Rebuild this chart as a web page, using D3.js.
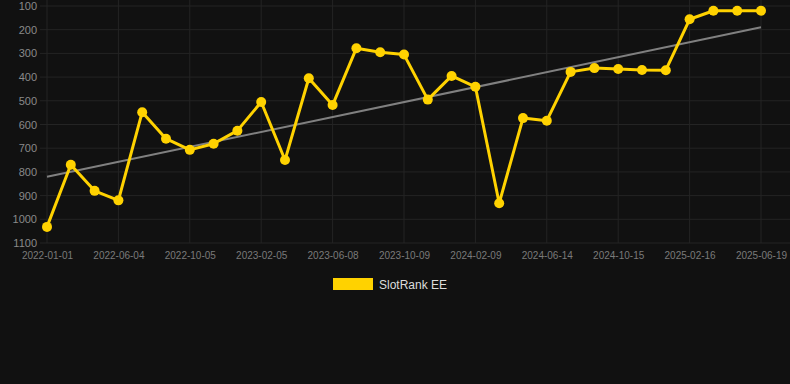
<!DOCTYPE html>
<html><head><meta charset="utf-8">
<script src="https://cdn.jsdelivr.net/npm/d3@7"></script>
<style>html,body{margin:0;padding:0;background:#111111;}svg{display:block;}</style>
</head><body>
<svg id="c" width="790" height="384"></svg>
<script>
const dates = ["2022-01-01","2022-02-21","2022-04-13","2022-06-04","2022-07-15","2022-08-25","2022-10-05","2022-11-15","2022-12-26","2023-02-05","2023-03-18","2023-04-28","2023-06-08","2023-07-19","2023-08-29","2023-10-09","2023-11-19","2023-12-30","2024-02-09","2024-03-21","2024-05-03","2024-06-14","2024-07-25","2024-09-04","2024-10-15","2024-11-25","2025-01-06","2025-02-16","2025-03-29","2025-05-09","2025-06-19"];
const ranks = [1032,770,880,920,548,660,707,681,626,505,750,405,518,278,295,305,495,395,441,932,573,584,378,362,366,370,371,156,120,120,120];
const yTicks = [100,200,300,400,500,600,700,800,900,1000,1100];
const seriesName = "SlotRank EE";

const svg = d3.select("#c");
const x = d3.scalePoint().domain(dates).range([47, 761]);
const y = d3.scaleLinear().domain([100, 1100]).range([6, 243]);
const xTicks = dates.filter((d, i) => i % 3 === 0);

// grid
svg.append("g").selectAll("line").data(yTicks).join("line")
  .attr("x1", 40).attr("x2", 790).attr("y1", d => y(d)).attr("y2", d => y(d))
  .attr("stroke", "#242424").attr("stroke-width", 1);
svg.append("g").selectAll("line").data(xTicks).join("line")
  .attr("x1", d => x(d)).attr("x2", d => x(d)).attr("y1", 0).attr("y2", 243)
  .attr("stroke", "#242424").attr("stroke-width", 1);

// axes
const yAxis = svg.append("g").attr("transform", "translate(37,0)")
  .call(d3.axisLeft(y).tickValues(yTicks).tickFormat(d3.format("d")).tickSize(0).tickPadding(0));
yAxis.select(".domain").remove();
yAxis.selectAll("text").attr("fill", "#8a8a8a").attr("font-size", "11px")
  .attr("font-family", "Arial, 'Liberation Sans', sans-serif");

const xAxis = svg.append("g").attr("transform", "translate(0,252)")
  .call(d3.axisBottom(x).tickValues(xTicks).tickSize(0).tickPadding(0));
xAxis.select(".domain").remove();
xAxis.selectAll("text").attr("fill", "#7a7a7a").attr("font-size", "10px")
  .attr("font-family", "Arial, 'Liberation Sans', sans-serif");

// trend (least squares)
const n = ranks.length;
const idx = d3.range(n);
const mx = d3.mean(idx), my = d3.mean(ranks);
const slope = d3.sum(idx, i => (i - mx) * (ranks[i] - my)) / d3.sum(idx, i => (i - mx) ** 2);
const icpt = my - slope * mx;
svg.append("line")
  .attr("x1", x(dates[0])).attr("y1", y(icpt))
  .attr("x2", x(dates[n - 1])).attr("y2", y(icpt + slope * (n - 1)))
  .attr("stroke", "#808080").attr("stroke-width", 2);

// series
const line = d3.line().x((d, i) => x(dates[i])).y(d => y(d));
svg.append("path").datum(ranks).attr("d", line)
  .attr("fill", "none").attr("stroke", "#FFD200").attr("stroke-width", 3)
  .attr("stroke-linejoin", "round");
svg.append("g").selectAll("circle").data(ranks).join("circle")
  .attr("cx", (d, i) => x(dates[i])).attr("cy", d => y(d)).attr("r", 5)
  .attr("fill", "#FFD200");

// legend
const lg = svg.append("g");
lg.append("rect").attr("x", 333).attr("y", 278).attr("width", 40).attr("height", 12).attr("fill", "#FFD200");
lg.append("text").attr("x", 379).attr("y", 289).text(seriesName)
  .attr("fill", "#dddddd").attr("font-size", "12px")
  .attr("font-family", "Arial, 'Liberation Sans', sans-serif");
</script>
</body></html>
